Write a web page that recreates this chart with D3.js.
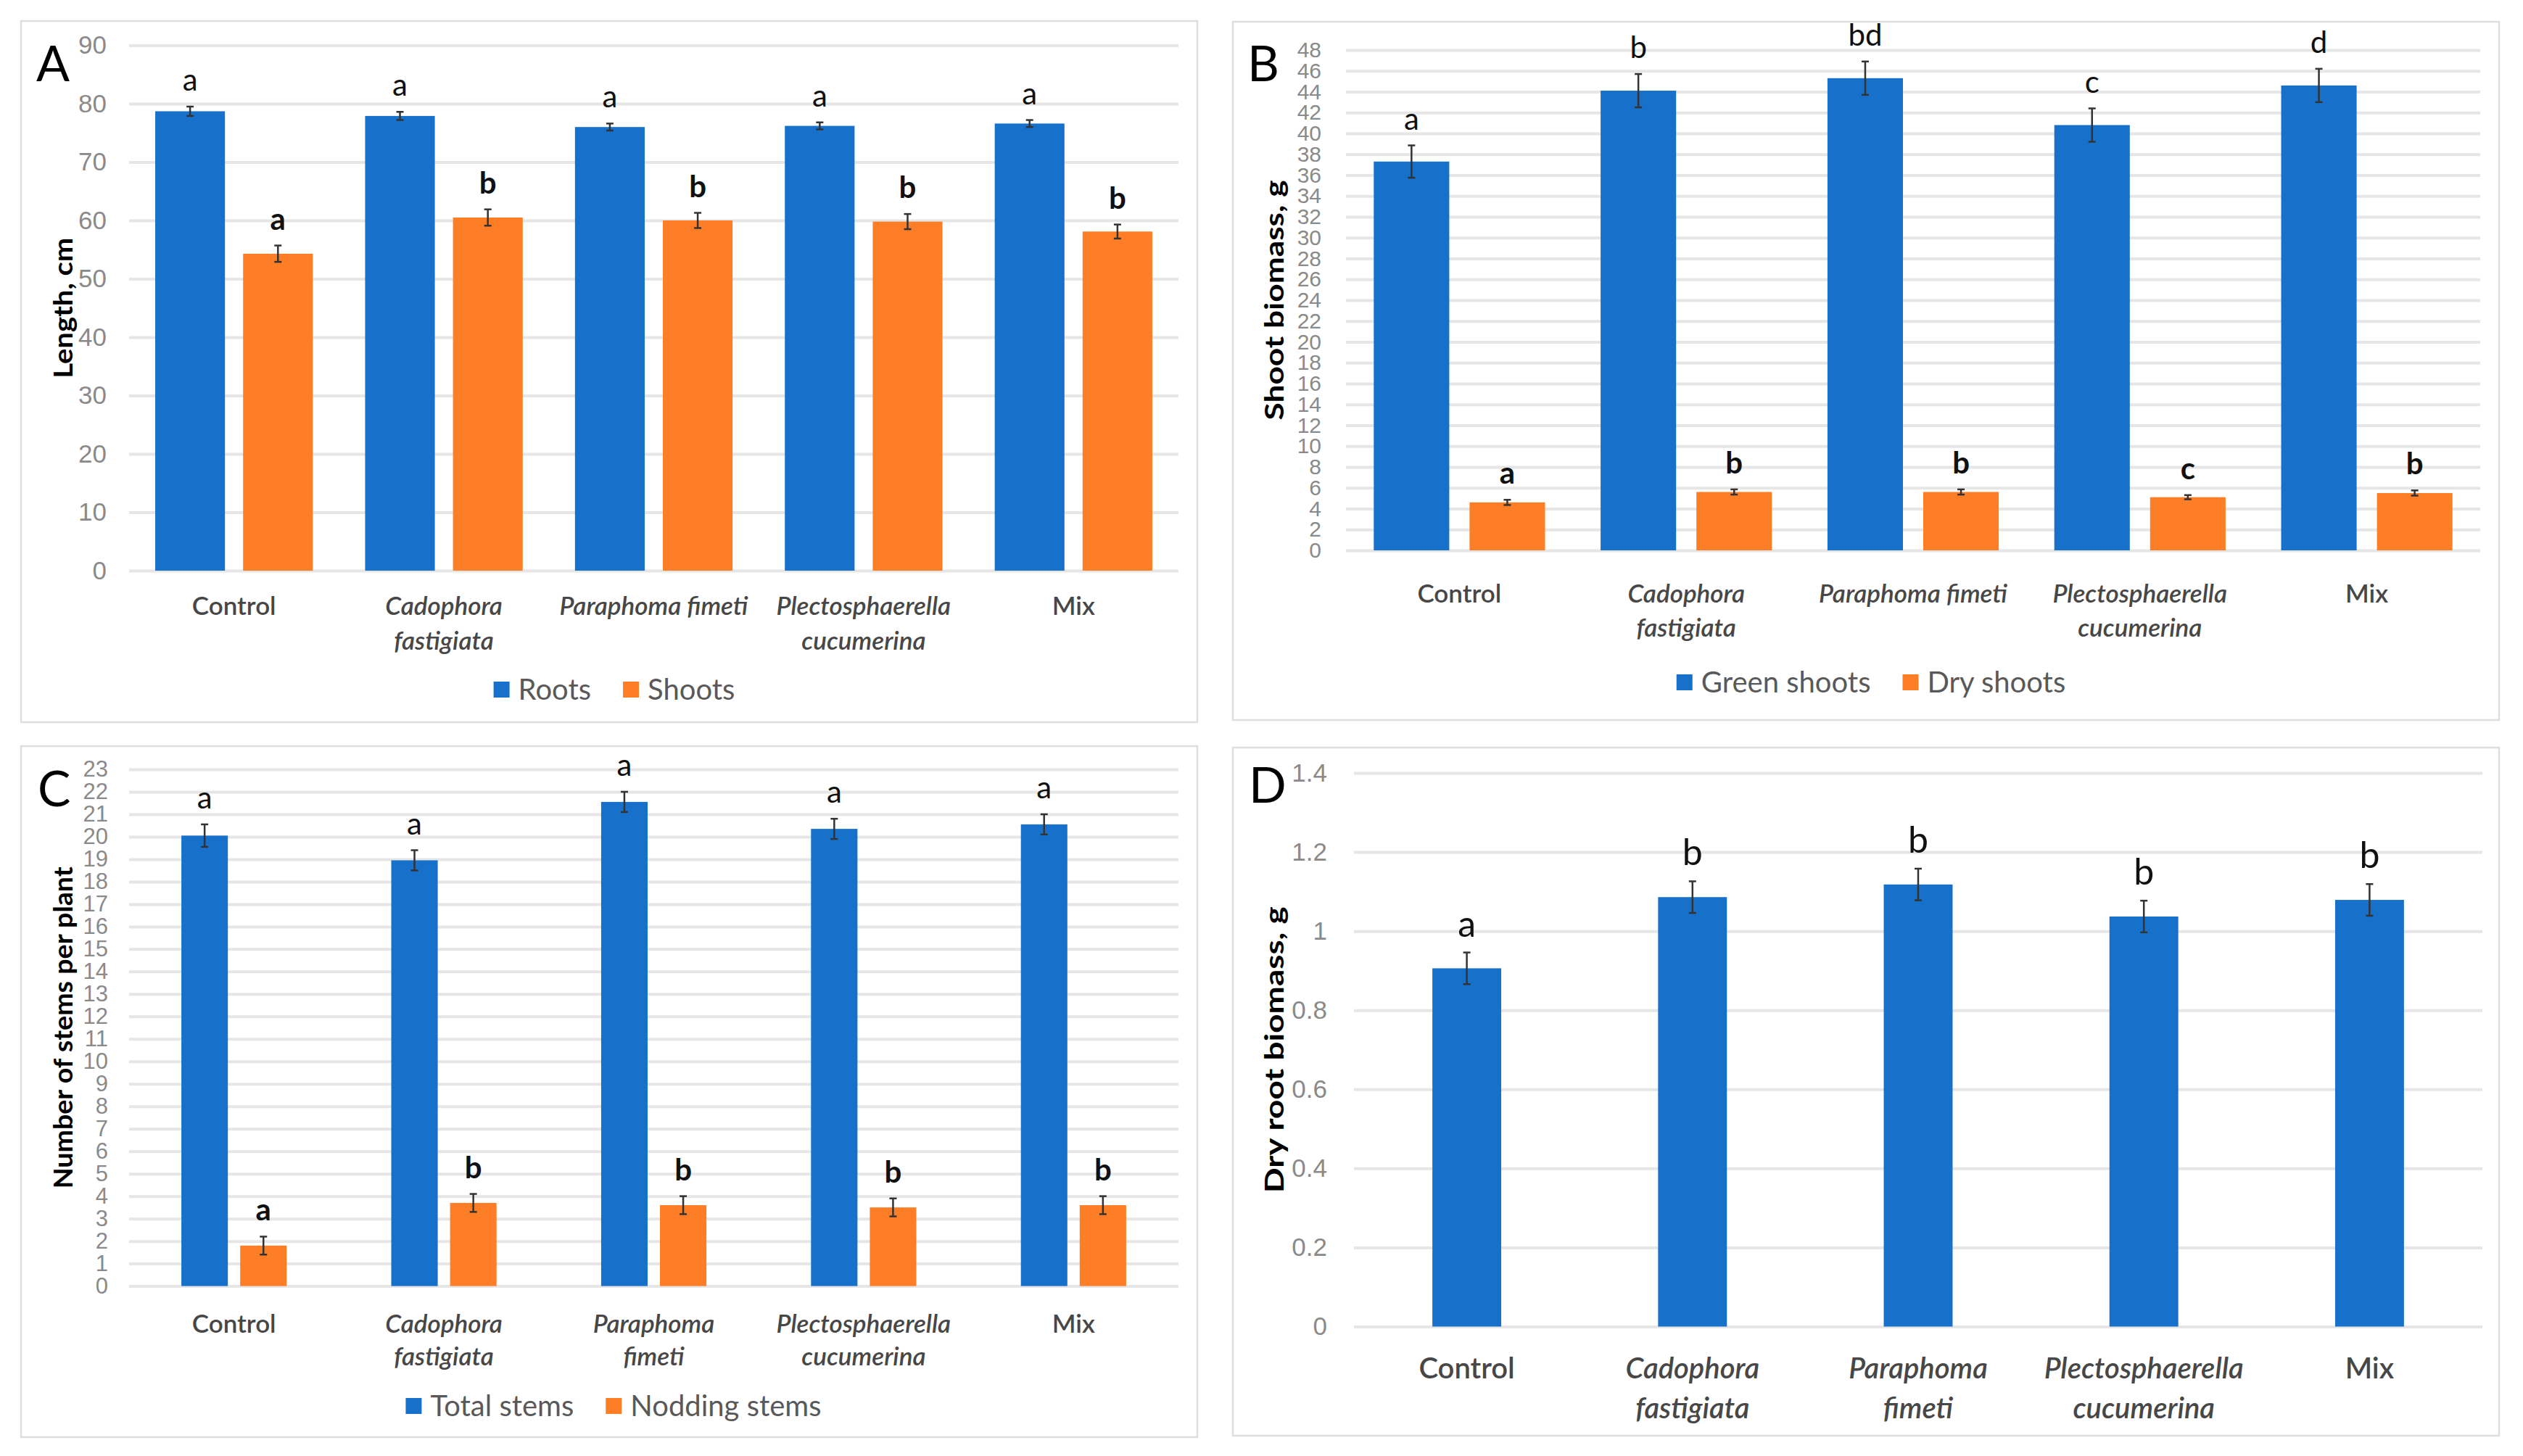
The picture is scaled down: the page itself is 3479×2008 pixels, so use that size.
<!DOCTYPE html>
<html><head><meta charset="utf-8">
<script src="https://cdn.jsdelivr.net/npm/d3@7"></script>
<style>body{margin:0;background:#fff} svg{display:block}</style>
</head><body><svg id="c" width="3479" height="2008"></svg>
<script>
// ---------------- DATA ----------------
const categories = ["Control", "Cadophora fastigiata", "Paraphoma fimeti", "Plectosphaerella cucumerina", "Mix"];
const labelsWide   = [["Control"], ["Cadophora", "fastigiata"], ["Paraphoma fimeti"], ["Plectosphaerella", "cucumerina"], ["Mix"]];
const labelsNarrow = [["Control"], ["Cadophora", "fastigiata"], ["Paraphoma", "fimeti"], ["Plectosphaerella", "cucumerina"], ["Mix"]];
const italicCats = [false, true, true, true, false];

// A: length, cm
const rootsLength      = [78.7, 77.9, 76.0, 76.2, 76.6];
const rootsLengthErr   = [0.8, 0.7, 0.6, 0.6, 0.6];
const rootsLetters     = ["a", "a", "a", "a", "a"];
const shootsLength     = [54.3, 60.5, 60.0, 59.8, 58.1];
const shootsLengthErr  = [1.4, 1.4, 1.3, 1.3, 1.2];
const shootsLetters    = ["a", "b", "b", "b", "b"];
const ticksA = [0, 10, 20, 30, 40, 50, 60, 70, 80, 90];

// B: shoot biomass, g
const greenShoots      = [37.3, 44.1, 45.3, 40.8, 44.6];
const greenShootsErr   = [1.55, 1.6, 1.6, 1.6, 1.6];
const greenLetters     = ["a", "b", "bd", "c", "d"];
const dryShoots        = [4.6, 5.6, 5.6, 5.1, 5.5];
const dryShootsErr     = [0.25, 0.25, 0.25, 0.2, 0.25];
const dryLetters       = ["a", "b", "b", "c", "b"];
const ticksB = [0, 2, 4, 6, 8, 10, 12, 14, 16, 18, 20, 22, 24, 26, 28, 30, 32, 34, 36, 38, 40, 42, 44, 46, 48];

// C: number of stems per plant
const totalStems       = [20.05, 18.95, 21.55, 20.35, 20.55];
const totalStemsErr    = [0.5, 0.45, 0.45, 0.45, 0.45];
const totalLetters     = ["a", "a", "a", "a", "a"];
const noddingStems     = [1.8, 3.7, 3.6, 3.5, 3.6];
const noddingStemsErr  = [0.4, 0.4, 0.4, 0.4, 0.4];
const noddingLetters   = ["a", "b", "b", "b", "b"];
const ticksC = [0, 1, 2, 3, 4, 5, 6, 7, 8, 9, 10, 11, 12, 13, 14, 15, 16, 17, 18, 19, 20, 21, 22, 23];

// D: dry root biomass, g
const dryRoot          = [0.906, 1.086, 1.118, 1.037, 1.079];
const dryRootErr       = [0.04, 0.04, 0.04, 0.04, 0.04];
const dryRootLetters   = ["a", "b", "b", "b", "b"];
const ticksD = [0, 0.2, 0.4, 0.6, 0.8, 1, 1.2, 1.4];

// ---------------- STYLE ----------------
const BLUE = "#1770C9", ORANGE = "#FD7E26";
const FONT = "Lato, 'Open Sans', 'Liberation Sans', sans-serif";
const TICKFONT = "'Liberation Sans Narrow', 'Liberation Sans', Arial, sans-serif";

const svg = d3.select("#c");
svg.append("rect").attr("width", 3479).attr("height", 2008).attr("fill", "#fff");

function panel(o) {
  const g = svg.append("g");
  g.append("rect")
    .attr("x", o.box[0]).attr("y", o.box[1])
    .attr("width", o.box[2] - o.box[0]).attr("height", o.box[3] - o.box[1])
    .attr("fill", "#fff").attr("stroke", "#dedede").attr("stroke-width", 2.5);

  const y = d3.scaleLinear().domain([0, o.ymax]).range([o.y0, o.y1]);
  const x0 = d3.scaleBand().domain(categories).range([o.x0, o.x1])
    .paddingInner(o.pi0 || 0).paddingOuter(o.po0 || 0);
  const x1 = d3.scaleBand().domain(o.series.map(s => s.name)).range([0, x0.bandwidth()])
    .paddingInner(o.pi).paddingOuter(o.po);

  // gridlines + tick labels
  const ax = d3.axisLeft(y).tickValues(o.ticks).tickSize(-(o.x1 - o.x0)).tickPadding(o.tickPad)
    .tickFormat(d => String(+d.toFixed(1)));
  const ag = g.append("g").attr("transform", `translate(${o.x0},0)`).call(ax);
  ag.select(".domain").remove();
  ag.selectAll(".tick line").attr("stroke", "#e6e6e6").attr("stroke-width", 4);
  ag.selectAll(".tick text").attr("fill", "#8a8a8a").style("font-family", TICKFONT)
    .style("font-size", o.tickFS + "px");

  // bars, error bars, letters
  o.series.forEach(s => {
    const sg = g.append("g");
    const data = categories.map((c, i) => ({c, v: s.values[i], e: s.err[i], l: s.letters[i]}));
    sg.selectAll("rect.bar").data(data).join("rect").attr("class", "bar")
      .attr("x", d => x0(d.c) + x1(s.name)).attr("width", x1.bandwidth())
      .attr("y", d => y(d.v)).attr("height", d => y(0) - y(d.v))
      .attr("fill", s.color);
    const cx = d => x0(d.c) + x1(s.name) + x1.bandwidth() / 2;
    sg.selectAll("line.eb").data(data).join("line").attr("class", "eb")
      .attr("x1", cx).attr("x2", cx).attr("y1", d => y(d.v - d.e)).attr("y2", d => y(d.v + d.e))
      .attr("stroke", "#333").attr("stroke-width", 2.5);
    [1, -1].forEach(sg2 => {
      sg.selectAll("line.cap" + (sg2 > 0 ? "u" : "d")).data(data).join("line")
        .attr("class", "cap" + (sg2 > 0 ? "u" : "d"))
        .attr("x1", d => cx(d) - 5).attr("x2", d => cx(d) + 5)
        .attr("y1", d => y(d.v + sg2 * d.e)).attr("y2", d => y(d.v + sg2 * d.e))
        .attr("stroke", "#333").attr("stroke-width", 2.5);
    });
    sg.selectAll("text.lt").data(data).join("text").attr("class", "lt")
      .attr("x", cx).attr("y", d => y(d.v + d.e) - o.letterGap)
      .attr("text-anchor", "middle").attr("fill", "#111")
      .style("font-family", FONT).style("font-size", o.letterFS + "px")
      .style("font-weight", s.bold ? "bold" : "normal")
      .text(d => d.l);
  });

  // category labels
  const cg = g.append("g");
  categories.forEach((c, i) => {
    const t = cg.append("text").attr("x", x0(c) + x0.bandwidth() / 2).attr("y", o.catY)
      .attr("text-anchor", "middle").attr("fill", "#474747")
      .style("font-family", FONT).style("font-size", o.catFS + "px").style("font-weight", "600")
      .style("font-style", italicCats[i] ? "italic" : "normal");
    o.labels[i].forEach((ln, k) => {
      t.append("tspan").attr("x", x0(c) + x0.bandwidth() / 2)
        .attr("dy", k === 0 ? "0.35em" : o.catLH + "px").text(ln);
    });
  });

  // y-axis title
  g.append("text")
    .attr("transform", `translate(${o.titleX},${(o.y0 + o.y1) / 2}) rotate(-90)`)
    .attr("text-anchor", "middle").attr("dy", "0.35em").attr("fill", "#000")
    .attr("textLength", o.titleLen).attr("lengthAdjust", "spacingAndGlyphs")
    .style("font-family", FONT).style("font-size", "37px").style("font-weight", "bold")
    .text(o.title);

  // panel letter
  g.append("text").attr("x", o.letter[1]).attr("y", o.letter[2])
    .attr("fill", "#000").style("font-family", FONT).style("font-size", "68px")
    .text(o.letter[0]);

  // legend
  if (o.legend) {
    const lg = g.append("g");
    let xx = 0;
    o.series.forEach(s => {
      const it = lg.append("g");
      it.append("rect").attr("x", 0).attr("y", -11).attr("width", 22).attr("height", 22).attr("fill", s.color);
      const tx = it.append("text").attr("x", 34).attr("y", 0).attr("dy", "0.35em").attr("fill", "#595959")
        .style("font-family", FONT).style("font-size", o.legendFS + "px").text(s.name);
      const w = 34 + tx.node().getComputedTextLength();
      it.attr("transform", `translate(${xx},0)`);
      xx += w + 44;
    });
    const total = xx - 44;
    lg.attr("transform", `translate(${o.legendX - total / 2},${o.legendY})`);
  }
}

panel({
  box: [29, 29, 1651, 996], x0: 178, x1: 1625, y0: 787, y1: 62.5, ymax: 90, ticks: ticksA,
  tickFS: 35, tickPad: 31, pi: 0.2066, po: 0.2975,
  series: [
    {name: "Roots", values: rootsLength, err: rootsLengthErr, letters: rootsLetters, color: BLUE, bold: false},
    {name: "Shoots", values: shootsLength, err: shootsLengthErr, letters: shootsLetters, color: ORANGE, bold: true}
  ],
  letterGap: 22, letterFS: 42,
  labels: labelsWide, catY: 836, catLH: 48, catFS: 35,
  title: "Length, cm", titleX: 87, titleLen: 194,
  letter: ["A", 50, 112],
  legend: true, legendX: 847, legendY: 951, legendFS: 40
});

panel({
  box: [1700, 30, 3446, 993], x0: 1856, x1: 3420, y0: 759, y1: 69, ymax: 48, ticks: ticksB,
  tickFS: 30, tickPad: 34, pi: 0.212, po: 0.29,
  series: [
    {name: "Green shoots", values: greenShoots, err: greenShootsErr, letters: greenLetters, color: BLUE, bold: false},
    {name: "Dry shoots", values: dryShoots, err: dryShootsErr, letters: dryLetters, color: ORANGE, bold: true}
  ],
  letterGap: 22, letterFS: 42,
  labels: labelsWide, catY: 819, catLH: 47, catFS: 35,
  title: "Shoot biomass, g", titleX: 1757, titleLen: 331,
  letter: ["B", 1720, 112],
  legend: true, legendX: 2580, legendY: 941, legendFS: 40
});

panel({
  box: [29, 1029, 1651, 1982], x0: 178, x1: 1625, y0: 1773.6, y1: 1061, ymax: 23, ticks: ticksC,
  tickFS: 31, tickPad: 29, pi: 0.21, po: 0.889,
  series: [
    {name: "Total stems", values: totalStems, err: totalStemsErr, letters: totalLetters, color: BLUE, bold: false},
    {name: "Nodding stems", values: noddingStems, err: noddingStemsErr, letters: noddingLetters, color: ORANGE, bold: true}
  ],
  letterGap: 22, letterFS: 42,
  labels: labelsNarrow, catY: 1826, catLH: 45, catFS: 35,
  title: "Number of stems per plant", titleX: 87, titleLen: 444,
  letter: ["C", 52, 1112],
  legend: true, legendX: 846, legendY: 1939, legendFS: 40
});

panel({
  box: [1700, 1031, 3446, 1980], x0: 1867, x1: 3423, y0: 1829.5, y1: 1066, ymax: 1.4, ticks: ticksD,
  tickFS: 35, tickPad: 37, pi0: 0.695, po0: 0.3475, pi: 0, po: 0,
  series: [
    {name: "Dry root biomass", values: dryRoot, err: dryRootErr, letters: dryRootLetters, color: BLUE, bold: false}
  ],
  letterGap: 22, letterFS: 50,
  labels: labelsNarrow, catY: 1887, catLH: 55, catFS: 40,
  title: "Dry root biomass, g", titleX: 1757, titleLen: 395,
  letter: ["D", 1722, 1107],
  legend: false
});
</script>
</body></html>
